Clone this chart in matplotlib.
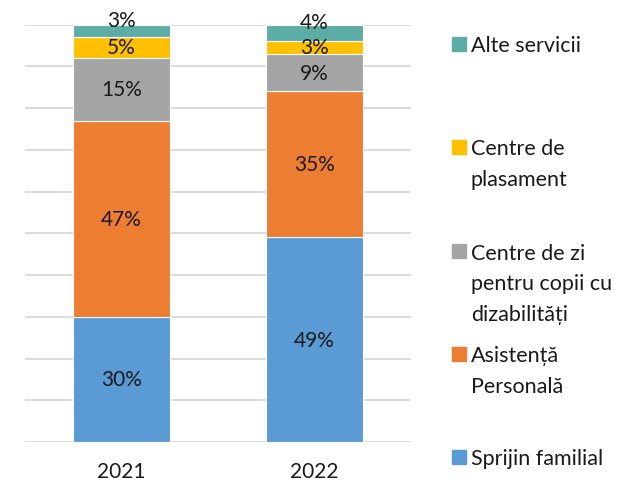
import matplotlib
matplotlib.use("Agg")
import matplotlib.pyplot as plt
from matplotlib.patches import Rectangle
import numpy as np

plt.rcParams['font.family'] = ['Lato', 'DejaVu Sans']

years = ["2021", "2022"]
categories = ["Sprijin familial", "Asistență\nPersonală",
              "Centre de zi\npentru copii cu\ndizabilități",
              "Centre de\nplasament", "Alte servicii"]
shares = {
    "Sprijin familial": [30, 49],
    "Asistență\nPersonală": [47, 35],
    "Centre de zi\npentru copii cu\ndizabilități": [15, 9],
    "Centre de\nplasament": [5, 3],
    "Alte servicii": [3, 4],
}
colors = ["#5B9BD5", "#ED7D31", "#A5A5A5", "#FFC000", "#5DADA7"]

fig = plt.figure(figsize=(6.2, 4.85), dpi=100)
ax = fig.add_axes([25 / 620, 42 / 485, 386 / 620, 417.5 / 485])

x = np.arange(len(years))
bottom = np.zeros(len(years))
for i, (cat, col) in enumerate(zip(categories, colors)):
    vals = np.array(shares[cat], dtype=float)
    ax.bar(x, vals, 0.5, bottom=bottom, color=col, edgecolor="white",
           linewidth=0.8, zorder=3)
    for xi, b, v in zip(x, bottom, vals):
        # the top segment's label sits a bit higher so it doesn't crowd
        dy = 7.5 if i == len(categories) - 1 else 0
        ax.annotate(f"{v:.0f}%", (xi, b + v / 2), xytext=(0, dy),
                    textcoords="offset points", ha="center", va="center",
                    fontsize=15, color="#1a1a1a", zorder=4)
    bottom += vals

ax.set_xlim(-0.5, 1.5)
ax.set_ylim(0, 100)
ax.set_yticks(np.arange(0, 101, 10))
ax.set_yticklabels([])
ax.tick_params(axis="y", length=0)
ax.grid(axis="y", color="#D9D9D9", linewidth=1.3, zorder=0)
ax.set_xticks(x)
ax.set_xticklabels(years, fontsize=15, color="#1a1a1a")
ax.tick_params(axis="x", length=0, pad=14)
for s in ax.spines.values():
    s.set_visible(False)

# legend entries down the right side, top series first; one text per line
items = list(zip(categories, colors))[::-1]
centers = [45, 148, 252, 355, 458]
for (cat, col), yc in zip(items, centers):
    fig.add_artist(Rectangle((452 / 620, 1 - (yc + 7) / 485), 14 / 620, 14 / 485,
                             transform=fig.transFigure, color=col))
    for k, line in enumerate(cat.split("\n")):
        fig.text(471 / 620, 1 - (yc + 7.5 + 31 * k) / 485, line, ha="left",
                 va="baseline", fontsize=15.5, color="#1a1a1a")

fig.savefig("out.png", dpi=100)
